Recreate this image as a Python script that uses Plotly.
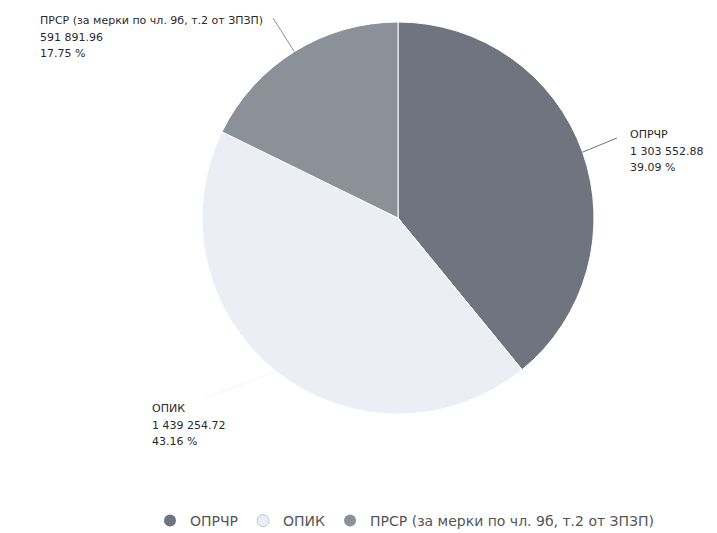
import math
import plotly.graph_objects as go

# ---- data ----
labels = ["ОПРЧР", "ОПИК", "ПРСР (за мерки по чл. 9б, т.2 от ЗПЗП)"]
values = [1303552.88, 1439254.72, 591891.96]
value_texts = ["1 303 552.88", "1 439 254.72", "591 891.96"]
percent_texts = ["39.09 %", "43.16 %", "17.75 %"]
colors = ["#6f747e", "#eceef5", "#8b9099"]

# ---- geometry (pixels, as seen in the window; page has an 8px body margin) ----
W, H = 717, 533
OFF = 8
cx, cy, r = 398 - OFF, 218 - OFF, 196
label_pos = [(628 - OFF, 126 - OFF), (150 - OFF, 400 - OFF), (38 - OFF, 12 - OFF)]
elbow = [(617 - OFF, 138 - OFF), (205 - OFF, 398 - OFF), (273 - OFF, 18 - OFF)]

fig = go.Figure()
fig.add_trace(go.Pie(
    labels=labels, values=values, sort=False, direction="clockwise", rotation=0,
    marker=dict(colors=colors, line=dict(color="white", width=1)),
    textinfo="none", hoverinfo="label+value+percent", showlegend=False,
    domain=dict(x=[(cx - r) / W, (cx + r) / W], y=[1 - (cy + r) / H, 1 - (cy - r) / H]),
))

# legend entries with circle markers
for lab, col in zip(labels, colors):
    fig.add_trace(go.Scatter(x=[None], y=[None], mode="markers", name=lab,
                             marker=dict(symbol="circle", size=12, color=col,
                                         line=dict(color="#c4c8d0", width=1 if col == "#eceef5" else 0))))

total = sum(values)
cum = 0
shapes = []
annotations = []
for i, v in enumerate(values):
    mid = (cum + v / 2) / total * 2 * math.pi
    cum += v
    ex = cx + r * math.sin(mid)
    ey = cy - r * math.cos(mid)
    bx, by = elbow[i]
    lc = colors[i] if i != 1 else "#f3f4f8"
    shapes.append(dict(type="path", path=f"M {ex:.1f} {ey:.1f} L {bx} {by}",
                       line=dict(color=lc, width=1), xref="x", yref="y"))
    lx, ly = label_pos[i]
    for j, t in enumerate([labels[i], value_texts[i], percent_texts[i]]):
        annotations.append(dict(x=lx, y=ly + j * 16.5, xref="x", yref="y", text=t,
                                showarrow=False, xanchor="left", yanchor="top",
                                font=dict(family="DejaVu Sans", size=11, color="#2a2a2a")))

fig.update_layout(
    width=W, height=H, margin=dict(l=0, r=0, t=0, b=0),
    paper_bgcolor="white", plot_bgcolor="rgba(0,0,0,0)",
    xaxis=dict(range=[0, W], visible=False, fixedrange=True),
    yaxis=dict(range=[H, 0], visible=False, fixedrange=True),
    shapes=shapes, annotations=annotations,
    showlegend=True,
    legend=dict(orientation="h", x=(405 - OFF) / W, xanchor="center", y=1 - (521 - OFF) / H,
                yanchor="middle",
                font=dict(family="DejaVu Sans", size=14, color="#555555"),
                bgcolor="rgba(0,0,0,0)", itemwidth=30),
)

fig.write_html("out.html")
